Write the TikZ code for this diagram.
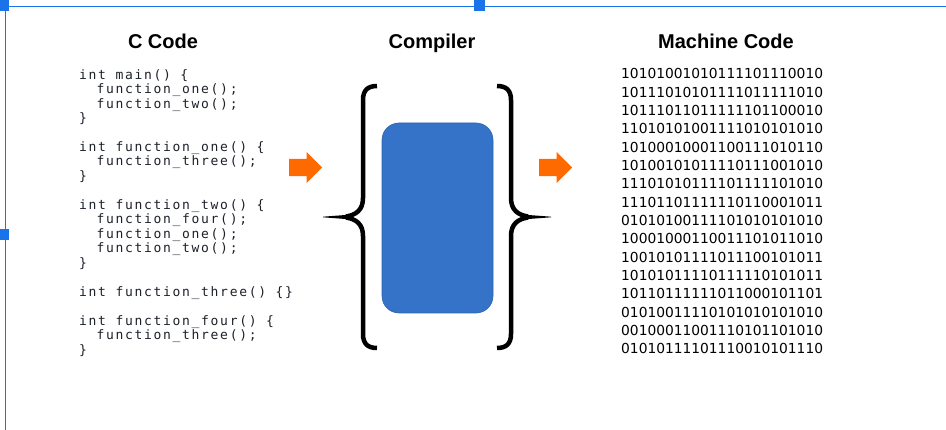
\documentclass[tikz,border=0pt]{standalone}
\usepackage{fontspec}
\setmainfont{Liberation Sans}
\newfontfamily\codefont{DejaVu Sans Mono}[LetterSpace=13]
\newfontfamily\bitsfont{DejaVu Sans}
\usetikzlibrary{shapes.arrows}

\definecolor{selblue}{HTML}{1A73E8}
\definecolor{cpublue}{HTML}{3473C8}
\definecolor{cpuedge}{HTML}{2E64AE}
\definecolor{arroworange}{HTML}{FF6A00}
\definecolor{codegray}{HTML}{1C2029}

\begin{document}
\begin{tikzpicture}[x=1pt, y=-1pt,
	title/.style={font=\fontsize{20}{24}\selectfont\bfseries, anchor=base, inner sep=0pt},
	listing/.style={font=\codefont\fontsize{13}{14.47}\selectfont, text=codegray, align=left, anchor=north west, inner sep=0pt},
	bits/.style={font=\bitsfont\fontsize{13.8}{18.33}\selectfont, align=left, anchor=north west, inner sep=0pt},
	flow/.style={single arrow, fill=arroworange, inner sep=8.5pt, minimum height=33pt, single arrow head extend=7pt, single arrow head indent=0pt, anchor=tail},
	bracestroke/.style={line width=4.5pt}]
	\useasboundingbox (0,0) rectangle (946,430);

	% selection frame
	\draw[selblue, line width=1.3pt] (0,6.3) -- (946,6.3);
	\draw[selblue, line width=1.3pt] (5.3,0) -- (5.3,430);
	\fill[selblue] (0,0) rectangle (8.5,11);
	\fill[selblue] (474,0) rectangle (485,11);
	\fill[selblue] (0,229) rectangle (8.5,240);

	% titles
	\node (cTitle)        [title] at (163,49) {C Code};
	\node (compilerTitle) [title] at (432,49) {Compiler};
	\node (machineTitle)  [title] at (726,49) {Machine Code};

	% source
	\node (cSource) [listing] at (79,69) {int main() \{\\
		\hphantom{in}function\_one();\\
		\hphantom{in}function\_two();\\
		\}\\
		~\\
		int function\_one() \{\\
		\hphantom{in}function\_three();\\
		\}\\
		~\\
		int function\_two() \{\\
		\hphantom{in}function\_four();\\
		\hphantom{in}function\_one();\\
		\hphantom{in}function\_two();\\
		\}\\
		~\\
		int function\_three() \{\}\\
		~\\
		int function\_four() \{\\
		\hphantom{in}function\_three();\\
		\}};

	% compiler
	\node (cpu) [draw=cpuedge, fill=cpublue, line width=0.6pt, rounded corners=17pt, minimum width=111pt, minimum height=190pt] at (437.5,218) {};
	\draw[bracestroke] (377,86) .. controls (368,86) and (363,90) .. (363,100) -- (363,198) .. controls (363,210) and (356,215) .. (346,216.5);
	\draw[bracestroke] (346,217.5) .. controls (356,219) and (363,224) .. (363,236) -- (363,334) .. controls (363,344) and (368,348) .. (377,348);
	\fill (348,214.8) -- (323,216.7) -- (323,217.3) -- (348,219.2) -- cycle;
	\draw[bracestroke] (497,86) .. controls (506,86) and (511,90) .. (511,100) -- (511,198) .. controls (511,210) and (518,215) .. (528,216.5);
	\draw[bracestroke] (528,217.5) .. controls (518,219) and (511,224) .. (511,236) -- (511,334) .. controls (511,344) and (506,348) .. (497,348);
	\fill (526,214.8) -- (551,216.7) -- (551,217.3) -- (526,219.2) -- cycle;

	% arrows
	\node (toCompiler) [flow] at (289,167.5) {};
	\node (toMachine)  [flow] at (539,167.5) {};

	% machine code
	\node (binary) [bits] at (621,68.5) {10101001010111101110010\\
		10111010101111011111010\\
		10111011011111101100010\\
		11010101001111010101010\\
		10100010001100111010110\\
		10100101011110111001010\\
		11101010111101111101010\\
		11101101111110110001011\\
		01010100111101010101010\\
		10001000110011101011010\\
		10010101111011100101011\\
		10101011110111110101011\\
		10110111111011000101101\\
		01010011110101010101010\\
		00100011001110101101010\\
		01010111101110010101110};
\end{tikzpicture}
\end{document}
